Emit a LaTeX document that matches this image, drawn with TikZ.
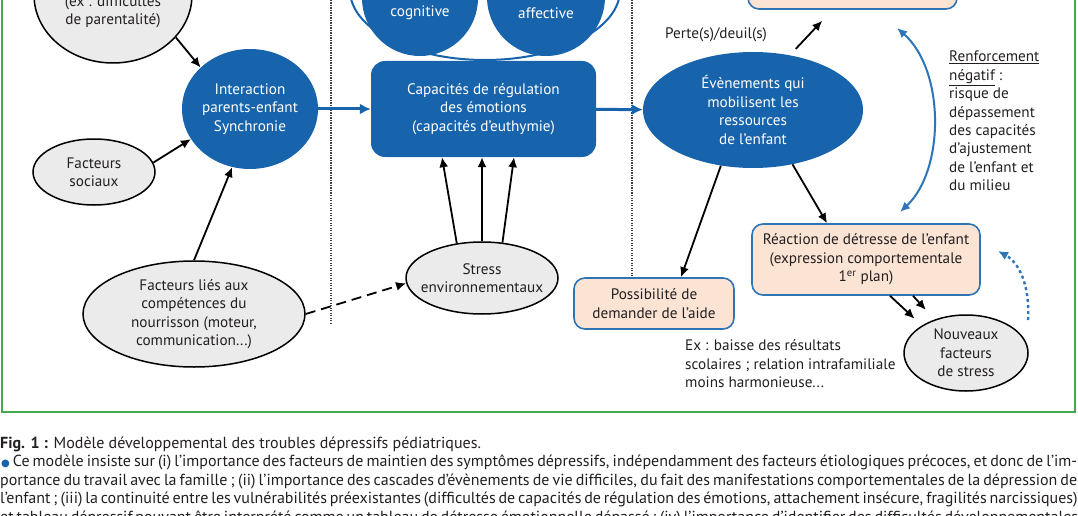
\documentclass[tikz,border=0pt]{standalone}
\usepackage{fontspec}
\setmainfont{PT Sans}
\newfontfamily\symbolFont{DejaVu Sans}
\usepackage{xcolor}
\definecolor{mainBlue}{HTML}{1764AC}
\definecolor{lineBlue}{HTML}{2F74B5}
\definecolor{beigeBg}{HTML}{FCE4D5}
\definecolor{greyBg}{HTML}{EBEBEB}
\definecolor{frameGreen}{HTML}{45A84F}
\definecolor{textDark}{HTML}{231F20}
\usepackage{tikz}
\usetikzlibrary{shapes,positioning,calc,arrows.meta}
\newcommand{\nodeFont}{\fontsize{15.2}{18.4}\selectfont}
\newcommand{\captionFont}{\fontsize{16}{18.4}\selectfont}
\tikzset{%
  greyEllipse/.style={%
    ellipse,
    draw=black,
    line width=1.5pt,
    fill=greyBg,
    inner xsep=-12pt,
    inner ysep=-4pt,
    align=center,
    text=textDark,
    font=\nodeFont
  },
  blueEllipse/.style={%
    ellipse,
    fill=mainBlue,
    inner xsep=-12pt,
    inner ysep=-4pt,
    align=center,
    text=white,
    font=\nodeFont
  },
  outerRing/.style={%
    ellipse,
    draw=mainBlue,
    line width=2pt,
    fill=white,
    inner sep=0pt
  },
  blueBox/.style={%
    rectangle,
    rounded corners=14pt,
    fill=mainBlue,
    inner sep=0pt,
    align=center,
    text=white,
    font=\nodeFont
  },
  beigeBox/.style={%
    rectangle,
    rounded corners=11pt,
    draw=lineBlue,
    line width=1.6pt,
    fill=beigeBg,
    inner sep=0pt,
    align=center,
    text=textDark,
    font=\nodeFont
  },
  plainText/.style={%
    inner sep=0pt,
    align=center,
    text=textDark,
    font=\nodeFont
  },
  captionText/.style={%
    inner sep=0pt,
    text=textDark,
    font=\captionFont
  },
  arrowLine/.style={%
    -{Latex[length=10pt,width=9pt]},
    line width=1.8pt,
    color=black
  },
  dashArrow/.style={%
    arrowLine,
    dash pattern=on 10pt off 6pt
  },
  blueArrow/.style={%
    -{Latex[length=11pt,width=11pt]},
    line width=3pt,
    color=mainBlue
  },
  blueThin/.style={%
    {Latex[length=10pt,width=9pt]}-{Latex[length=10pt,width=9pt]},
    line width=2pt,
    color=lineBlue
  },
  blueDotted/.style={%
    -{Latex[length=10pt,width=9pt]},
    line width=2.4pt,
    dash pattern=on 3pt off 3pt,
    color=lineBlue
  },
  sepLine/.style={%
    line width=1.3pt,
    dash pattern=on 1.2pt off 1.3pt,
    color=black!75
  }
}

\begin{document}
\begin{tikzpicture}[x=1pt, y=-1pt]
\useasboundingbox (0,0) rectangle (1078,516);
\clip (0,0) rectangle (1078,516);

% cadre et separations
\draw[frameGreen, line width=2.6pt] (2,-60) rectangle (1075,412);
\draw[sepLine] (331,-10) -- (331,323);
\draw[sepLine] (632,-10) -- (632,276);

% facteurs precoces
\node[greyEllipse, minimum width=158pt, minimum height=136pt] (famille) at (113,-5) {};
\node[plainText] (familleTxt) at (113,12) {(ex : difficultés\\de parentalité)};
\node[blueEllipse, minimum width=136pt, minimum height=120pt] (interaction) at (250,109) {Interaction\\parents-enfant\\Synchronie};
\node[greyEllipse, minimum width=122pt, minimum height=66pt] (sociaux) at (94,172) {Facteurs\\sociaux};
\node[greyEllipse, minimum width=222pt, minimum height=106pt] (competences) at (194,314) {Facteurs liés aux\\compétences du\\nourrisson (moteur,\\communication...)};

% regulation
\node[outerRing, minimum width=270pt, minimum height=140pt] (empathie) at (485,-10) {};
\node[blueEllipse, minimum width=116pt, minimum height=116pt] (empCog) at (420,-2) {};
\node[blueEllipse, minimum width=118pt, minimum height=118pt] (empAff) at (546,-3) {};
\node[plainText, text=white] (empCogTxt) at (420,13) {cognitive};
\node[plainText, text=white] (empAffTxt) at (546,13) {affective};
\node[blueBox, minimum width=225pt, minimum height=96pt] (capacites) at (483.5,109) {Capacités de régulation\\des émotions\\(capacités d'euthymie)};
\node[greyEllipse, minimum width=152pt, minimum height=72pt] (stress) at (482,278) {Stress\\environnementaux};

% evenements et reactions
\node[blueEllipse, minimum width=220pt, minimum height=116pt] (evenements) at (753,110) {Évènements qui\\mobilisent les\\ressources\\de l'enfant};
\node[beigeBox, minimum width=209pt, minimum height=80pt] (topBox) at (852.5,-31) {};
\node[plainText] (perte) at (716,35) {Perte(s)/deuil(s)};
\node[beigeBox, minimum width=160pt, minimum height=51pt] (possib) at (654,303.5) {Possibilité de\\demander de l'aide};
\node[plainText, align=left, anchor=west] (exemple) at (685,364) {Ex : baisse des résultats\\scolaires ; relation intrafamiliale\\moins harmonieuse...};
\node[beigeBox, minimum width=228pt, minimum height=71pt] (reaction) at (866,259.5) {Réaction de détresse de l'enfant\\(expression comportementale\\1\textsuperscript{er} plan)};
\node[greyEllipse, minimum width=124pt, minimum height=76pt] (nouveaux) at (966,353) {Nouveaux\\facteurs\\de stress};
\node[plainText, align=left, anchor=west] (renforcement) at (949,121) {\underline{Renforcement}\\\underline{négatif} :\\risque de\\dépassement\\des capacités\\d'ajustement\\de l'enfant et\\du milieu};

\coordinate (renfHaut) at (897,28);
\coordinate (renfBas) at (900,212);
\coordinate (boucleDebut) at (1028,320);
\coordinate (boucleFin) at (998,251);

% fleches
\draw[arrowLine] (famille.326) -- (interaction.140);
\draw[arrowLine] (sociaux.9) -- (interaction.207);
\draw[arrowLine] (competences.north) -- (interaction.253);
\draw[dashArrow] (competences.east) -- (stress.184);
\foreach \a/\s in {126/-41.5, 90/-1.5, 60/30.5}
  \draw[arrowLine] (stress.\a) -- ([xshift=\s pt]capacites.south);
\draw[blueArrow] (interaction) -- (capacites);
\draw[blueArrow] (capacites) -- (evenements);
\draw[arrowLine, shorten <=4pt, shorten >=15pt] ([xshift=40pt]evenements.north) -- ([xshift=-20pt]topBox.south);
\draw[arrowLine] (evenements.240) -- ([xshift=27pt]possib.north);
\draw[arrowLine] (evenements.306) -- ([xshift=-39pt]reaction.north);
\draw[arrowLine, shorten >=10pt] ([xshift=24pt]reaction.south) -- (nouveaux.148);
\draw[arrowLine, shorten >=13pt] ([xshift=47pt]reaction.south) -- (nouveaux.133);
\draw[blueThin] (renfHaut) .. controls (945,70) and (945,170) .. (renfBas);
\draw[blueDotted] (boucleDebut) .. controls (1030,283) and (1018,262) .. (boucleFin);

% legende
\node[captionText, anchor=base west] (legende1) at (0,448) {\textbf{Fig. 1 :} Modèle développemental des troubles dépressifs pédiatriques.};
\node[captionText, anchor=base west] (legende2) at (1,466.5) {\makebox[1076pt][s]{{\fontsize{10}{10}\symbolFont\color{mainBlue}●} Ce modèle insiste sur (i) l'importance des facteurs de maintien des symptômes dépressifs, indépendamment des facteurs étiologiques précoces, et donc de l'im-}};
\node[captionText, anchor=base west] (legende3) at (0,485) {\makebox[1077pt][s]{portance du travail avec la famille ; (ii) l'importance des cascades d'évènements de vie difficiles, du fait des manifestations comportementales de la dépression de}};
\node[captionText, anchor=base west] (legende4) at (0,503.5) {\makebox[1077pt][s]{l'enfant ; (iii) la continuité entre les vulnérabilités préexistantes (difficultés de capacités de régulation des émotions, attachement insécure, fragilités narcissiques)}};
\node[captionText, anchor=base west] (legende5) at (0,522) {\makebox[1077pt][s]{et tableau dépressif pouvant être interprété comme un tableau de détresse émotionnelle dépassé ; (iv) l'importance d'identifier des difficultés développementales}};
\end{tikzpicture}
\end{document}
